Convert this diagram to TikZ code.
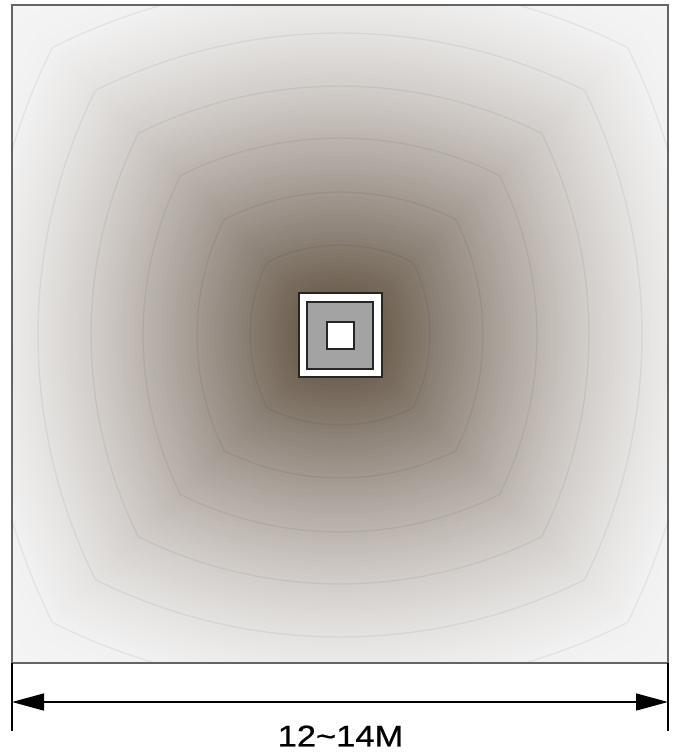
\documentclass[tikz,border=0pt]{standalone}
\usepackage{fontspec}
\setmainfont{Liberation Sans}
\newfontfamily\dimfont[FakeBold=0.6]{Liberation Sans}
\usetikzlibrary{arrows.meta}
\definecolor{s0}{RGB}{108,94,78}
\definecolor{s1}{RGB}{134,123,111}
\definecolor{s2}{RGB}{161,152,144}
\definecolor{s3}{RGB}{187,180,174}
\definecolor{s4}{RGB}{210,205,201}
\definecolor{s5}{RGB}{228,226,224}
\definecolor{s6}{RGB}{241,241,241}
\definecolor{s7}{RGB}{247,247,247}
\definecolor{framegray}{RGB}{100,100,100}
\definecolor{padgray}{RGB}{163,163,163}
\tikzset{
  blob/.style={insert path={(-#1,#1) .. controls (-0.37*#1,1.3126*#1) and (0.37*#1,1.3126*#1) .. (#1,#1)
     .. controls (1.3126*#1,0.37*#1) and (1.3126*#1,-0.37*#1) .. (#1,-#1)
     .. controls (0.37*#1,-1.3126*#1) and (-0.37*#1,-1.3126*#1) .. (-#1,-#1)
     .. controls (-1.3126*#1,-0.37*#1) and (-1.3126*#1,0.37*#1) .. cycle}},
  contour/.style={draw=black, draw opacity=0.055, line width=1.4pt},
  framebox/.style={draw=framegray, line width=1.8pt},
  tick/.style={draw=black, line width=2pt},
  dimline/.style={draw=black, line width=1.5pt, {Triangle[length=32pt,width=17pt]}-{Triangle[length=32pt,width=17pt]}},
  sq/.style={draw=black!85, line width=2pt, inner sep=0pt, outer sep=0pt},
  dimtext/.style={font=\dimfont\fontsize{30}{32}\selectfont, xscale=1.15, transform shape, inner sep=0pt}
}
\begin{document}
\begin{tikzpicture}[x=1pt, y=-1pt]
\useasboundingbox (0,0) rectangle (677,753);
\fill[white] (0,0) rectangle (677,753);
\begin{scope}
  \clip (12,5) rectangle (668,663);
  \fill[s7] (12,5) rectangle (668,663);
  \begin{scope}[shift={(340,335)}]
    \foreach \dA/\dB/\cA/\cB in {460/355/s7/s6, 355/302/s6/s5, 302/249/s5/s4, 249/197/s4/s3, 197/143/s3/s2, 143/90/s2/s1, 90/40/s1/s0}{
      \foreach \i in {0,...,11}{
        \pgfmathsetmacro\dd{\dA-(\dA-\dB)*\i/12}
        \pgfmathtruncatemacro\pp{100-100*\i/12}
        \pgfmathsetmacro\aa{0.81*\dd}
        \fill[\cA!\pp!\cB, blob=\aa];
      }
    }
    \pgfmathsetmacro\aa{0.81*40}
    \fill[s0, blob=\aa];
    \foreach \d in {90,143,197,249,302,355}{
      \pgfmathsetmacro\aa{0.81*\d}
      \draw[contour, blob=\aa];
    }
  \end{scope}
\end{scope}
\draw[framebox] (12,5) rectangle (668,663);
% center pad
\node[sq, fill=white, minimum width=83pt, minimum height=84pt] (outer) at (340.5,335) {};
\node[sq, fill=padgray, minimum width=66pt, minimum height=67pt] (pad) at (340,335.5) {};
\node[sq, fill=white, minimum width=27pt, minimum height=27pt] (hole) at (340.5,335.5) {};
% dimension
\coordinate (tl) at (12,663);
\coordinate (tlb) at (12,731);
\coordinate (tr) at (668,663);
\coordinate (trb) at (668,731);
\coordinate (al) at (12,702);
\coordinate (ar) at (668,702);
\draw[tick] (tl) -- (tlb);
\draw[tick] (tr) -- (trb);
\draw[dimline] (al) -- (ar);
\node[dimtext] (lbl) at (340.5,736) {12\textasciitilde 14M};
\end{tikzpicture}
\end{document}
